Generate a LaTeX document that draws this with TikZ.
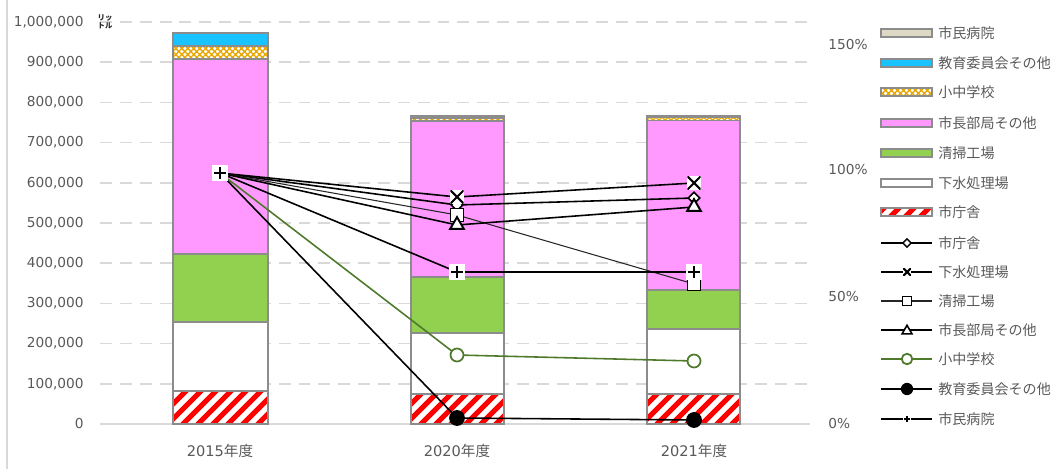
\documentclass[tikz,border=0pt]{standalone}
\usepackage{fontspec}
\setmainfont{Noto Sans CJK JP}
\newfontfamily\dvs{DejaVu Sans}
\usetikzlibrary{patterns.meta,shapes.geometric,calc}
\definecolor{txt}{HTML}{595959}
\definecolor{gridc}{HTML}{D9D9D9}
\definecolor{bord}{HTML}{8C8C8C}
\definecolor{cgreen}{HTML}{92D050}
\definecolor{cpink}{HTML}{FF99FF}
\definecolor{cblue}{HTML}{19C3FF}
\definecolor{cbeige}{HTML}{DDD9C4}
\definecolor{corange}{HTML}{E8A800}
\definecolor{lgreen}{HTML}{4F7A2C}
\definecolor{sqline}{HTML}{262626}
\newcommand\mybar[5]{\path[#5] (#1,#3) rectangle (#2,#4);}
\newcommand\stripebox[4]{%
  \begin{scope}
    \clip (#1,#3) rectangle (#2,#4);
    \fill[white] (#1,#3) rectangle (#2,#4);
    \foreach \s in {-90,-75,...,105} \draw[red, line width=2.9pt] ({#1+\s},{#3+40}) -- ({#1+\s+80},{#3-40});
  \end{scope}
  \draw[draw=bord, line width=1.1pt] (#1,#3) rectangle (#2,#4);}
\begin{document}
\begin{tikzpicture}[x=0.02cm,y=-0.02cm,
  num/.style={text=txt, font=\dvs\fontsize{7.8pt}{9pt}\selectfont, inner sep=0},
  jlab/.style={text=txt, font=\fontsize{8pt}{10pt}\selectfont, inner sep=0, anchor=west},
  catlab/.style={text=txt, font=\fontsize{8.3pt}{10pt}\selectfont, inner sep=0},
  gridl/.style={draw=gridc, line width=0.85pt, dash pattern=on 6.8pt off 4.5pt},
  seg/.style={draw=bord, line width=1.1pt},
  s2/.style={seg, fill=white},
  s3/.style={seg, fill=cgreen},
  s4/.style={seg, fill=cpink},
  s5/.style={seg, preaction={fill=white}, pattern={Hatch[angle=45,distance=2.4pt,line width=0.8pt]}, pattern color=corange},
  s6/.style={seg, fill=cblue},
  s7/.style={seg, fill=cbeige},
  ser/.style={draw=black, line width=0.9pt},
  sersq/.style={draw=sqline, line width=0.6pt},
  sergr/.style={draw=lgreen, line width=0.9pt},
  mdia/.style={diamond, draw=black, fill=white, line width=0.9pt, minimum width=7pt, minimum height=7pt, inner sep=0},
  mx/.style={rectangle, fill=white, minimum size=7.5pt, inner sep=0,
    path picture={\draw[line width=1.2pt] (path picture bounding box.south west)--(path picture bounding box.north east)
      (path picture bounding box.north west)--(path picture bounding box.south east);}},
  msq/.style={rectangle, draw=black, fill=white, line width=0.6pt, minimum size=7.2pt, inner sep=0},
  mtri/.style={regular polygon, regular polygon sides=3, draw=black, fill=white, line width=1.1pt, minimum size=9pt, inner sep=0},
  mcirc/.style={circle, draw=lgreen, fill=white, line width=1pt, minimum size=7.4pt, inner sep=0},
  mdot/.style={circle, fill=black, minimum size=9pt, inner sep=0},
  mplus/.style={rectangle, fill=white, minimum size=9.6pt, inner sep=0,
    path picture={\draw[line width=1.6pt]
      ($(path picture bounding box.north)!.16!(path picture bounding box.south)$)--($(path picture bounding box.north)!.84!(path picture bounding box.south)$)
      ($(path picture bounding box.west)!.16!(path picture bounding box.east)$)--($(path picture bounding box.west)!.84!(path picture bounding box.east)$);}}
]
\useasboundingbox (0,0) rectangle (1061,469);
% chart border (left edge)
\draw[gridc, line width=0.6pt] (7,0) -- (7,469);
% gridlines
\foreach \k in {1,...,10} \draw[gridl] (100,{424-40.2*\k}) -- (810,{424-40.2*\k});
\draw[gridc, line width=0.85pt] (100,424) -- (810,424);
% left axis labels
\foreach \k/\t in {0/0,1/{100,000},2/{200,000},3/{300,000},4/{400,000},5/{500,000},6/{600,000},7/{700,000},8/{800,000},9/{900,000},10/{1,000,000}}
  \node[num, anchor=east] (yl\k) at (84,{424-40.2*\k}) {\t};
\node[inner sep=0, align=center, font=\fontsize{4.2pt}{4.6pt}\selectfont\bfseries, text=black!85] (unit) at (105,22) {リッ\\トル};
% right axis labels
\node[num, anchor=west] (r0) at (828,424) {0\%};
\node[num, anchor=west] (r50) at (828,297) {50\%};
\node[num, anchor=west] (r100) at (828,170) {100\%};
\node[num, anchor=west] (r150) at (828,45) {150\%};
% category labels
\node[catlab] (c15) at (220,451) {\dvs 2015\rmfamily 年度};
\node[catlab] (c20) at (457,451) {\dvs 2020\rmfamily 年度};
\node[catlab] (c21) at (694,451) {\dvs 2021\rmfamily 年度};
% bars 2015
\stripebox{173}{268}{424}{391}
\mybar{173}{268}{391}{322}{s2}
\mybar{173}{268}{322}{254}{s3}
\mybar{173}{268}{254}{59}{s4}
\mybar{173}{268}{59}{46}{s5}
\mybar{173}{268}{46}{33.5}{s6}
\mybar{173}{268}{33.5}{33}{s7}
% bars 2020
\stripebox{411}{504}{424}{394}
\mybar{411}{504}{394}{333}{s2}
\mybar{411}{504}{333}{277}{s3}
\mybar{411}{504}{277}{121}{s4}
\mybar{411}{504}{121}{117.8}{s5}
\mybar{411}{504}{117.8}{116.8}{s6}
\mybar{411}{504}{116.8}{116.3}{s7}
% bars 2021
\stripebox{647}{740}{424}{394}
\mybar{647}{740}{394}{329}{s2}
\mybar{647}{740}{329}{290}{s3}
\mybar{647}{740}{290}{120.5}{s4}
\mybar{647}{740}{120.5}{117.5}{s5}
\mybar{647}{740}{117.5}{116.8}{s6}
\mybar{647}{740}{116.8}{116.3}{s7}
% series points
\foreach \n/\a/\b in {d/205/198, x/197/183, q/215/284, t/225/207, o/355/361, b/418/420, p/272/272} {
  \coordinate (\n0) at (220,173);
  \coordinate (\n1) at (457,\a);
  \coordinate (\n2) at (694,\b);
}
% series lines
\draw[ser] (d0) -- (d1) -- (d2);
\draw[ser] (x0) -- (x1) -- (x2);
\draw[sersq] (q0) -- (q1) -- (q2);
\draw[ser] (t0) -- (t1) -- (t2);
\draw[sergr] (o0) -- (o1) -- (o2);
\draw[ser] (b0) -- (b1) -- (b2);
\draw[ser] (p0) -- (p1) -- (p2);
% markers
\foreach \i in {1,2} {
  \node[mdia] (md\i) at (d\i) {};
  \node[mx] (mx\i) at (x\i) {};
  \node[msq] (mq\i) at (q\i) {};
  \node[mtri] (mt\i) at (t\i) {};
  \node[mcirc] (mo\i) at (o\i) {};
  \node[mdot] (mb\i) at (b\i) {};
}
\foreach \i in {0,1,2} \node[mplus] (mp\i) at (p\i) {};
% legend: bars
\foreach \y/\st/\t [count=\i] in {33/s7/市民病院, 63/s6/教育委員会その他, 92/s5/小中学校, 123/s4/市長部局その他, 153/s3/清掃工場, 183/s2/下水処理場} {
  \path[\st] (881,\y-4) rectangle (932,\y+4);
  \node[jlab] (lb\i) at (938,\y) {\t};
}
\stripebox{881}{932}{216}{208}
\node[jlab] (lb7) at (938,212) {市庁舎};
% legend: lines
\coordinate (la1) at (881,243); \coordinate (lz1) at (932,243);
\coordinate (la2) at (881,272); \coordinate (lz2) at (932,272);
\coordinate (la3) at (881,301); \coordinate (lz3) at (932,301);
\coordinate (la4) at (881,330); \coordinate (lz4) at (932,330);
\coordinate (la5) at (881,359); \coordinate (lz5) at (932,359);
\coordinate (la6) at (881,389); \coordinate (lz6) at (932,389);
\coordinate (la7) at (881,419); \coordinate (lz7) at (932,419);
\draw[ser] (la1) -- (lz1); \node[mdia, minimum width=5pt, minimum height=5pt, line width=0.8pt] (lm1) at (907,243) {};
\draw[ser] (la2) -- (lz2); \node[mx, minimum size=4.5pt] (lm2) at (907,272) {};
\draw[sersq, line width=0.8pt] (la3) -- (lz3); \node[msq, minimum size=5.5pt] (lm3) at (907,301) {};
\draw[ser] (la4) -- (lz4); \node[mtri, minimum size=6.5pt, line width=0.9pt] (lm4) at (907,331) {};
\draw[sergr] (la5) -- (lz5); \node[mcirc, minimum size=6pt] (lm5) at (907,359) {};
\draw[ser] (la6) -- (lz6); \node[mdot, minimum size=7pt] (lm6) at (907,389) {};
\draw[ser] (la7) -- (lz7); \node[mplus, minimum size=5pt] (lm7) at (907,419) {};
\foreach \y/\t [count=\i] in {243/市庁舎, 272/下水処理場, 301/清掃工場, 330/市長部局その他, 359/小中学校, 389/教育委員会その他, 419/市民病院}
  \node[jlab] (ll\i) at (938,\y) {\t};
\end{tikzpicture}
\end{document}
